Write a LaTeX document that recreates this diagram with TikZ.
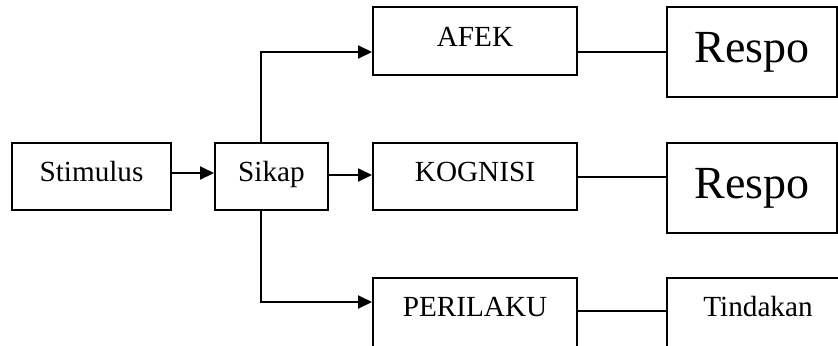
\documentclass[tikz,border=0pt]{standalone}
\usepackage{fontspec}
\setmainfont{Liberation Serif}
\usetikzlibrary{arrows.meta}
\usetikzlibrary{positioning}

\tikzset{
    kotak/.style={draw, rectangle, line width=1pt, inner sep=0pt, minimum height=33.5pt, text height=10pt, text depth=5pt, font=\fontsize{14.6}{17}\selectfont},
    kotakbawah/.style={kotak, minimum height=40pt, text depth=11.3pt},
    kotakbesar/.style={kotak, minimum height=45pt, text height=16pt, text depth=5.3pt, font=\fontsize{23}{27}\selectfont},
    panah/.style={-{Triangle[length=7pt,width=6.5pt]}, line width=1pt},
    garis/.style={line width=1pt}
}

\begin{document}
\begin{tikzpicture}[on grid, x=1pt, y=1pt]
                \clip (0,0) rectangle (419,172.5);
                \node[kotak, minimum width=79.5pt] (stim) at (45.75,84.25) {Stimulus};
                \node[kotak, minimum width=56.5pt] [right=90pt of stim] (sikap) {Sikap};
                \node[kotak, minimum width=102pt] [right=101.75pt of sikap] (kog) {KOGNISI};
                \node[kotak, minimum width=102pt, minimum height=34pt] [above=67.75pt of kog] (afek) {AFEK};
                \node[kotakbawah, minimum width=102pt] [below=70.75pt of kog] (peri) {PERILAKU};
                \node[kotakbesar, minimum width=85pt] [right=138.5pt of afek, yshift=-5.5pt] (resp1) {Respo};
                \node[kotakbesar, minimum width=85pt] [right=138.5pt of kog, yshift=-5.75pt] (resp2) {Respo};
                \node[kotakbawah, minimum width=91pt] [right=141.5pt of peri] (tind) {Tindakan};
                \draw[panah] ([yshift=1.75pt]stim.east) -- ([yshift=1.75pt]sikap.west);
                \draw[panah] ([yshift=0.75pt]sikap.east) -- ([yshift=0.75pt]kog.west);
                \draw[panah] ([xshift=-5.25pt]sikap.north) |- ([yshift=-5.5pt]afek.west);
                \draw[panah] ([xshift=-5.25pt]sikap.south) |- ([yshift=8pt]peri.west);
                \draw[garis] (resp1.west -| afek.east) -- (resp1.west);
                \draw[garis] (kog.east) -- (kog.east -| resp2.west);
                \draw[garis] ([yshift=3.5pt]peri.east) -- ([yshift=3.5pt]tind.west);
            \end{tikzpicture}
\end{document}
